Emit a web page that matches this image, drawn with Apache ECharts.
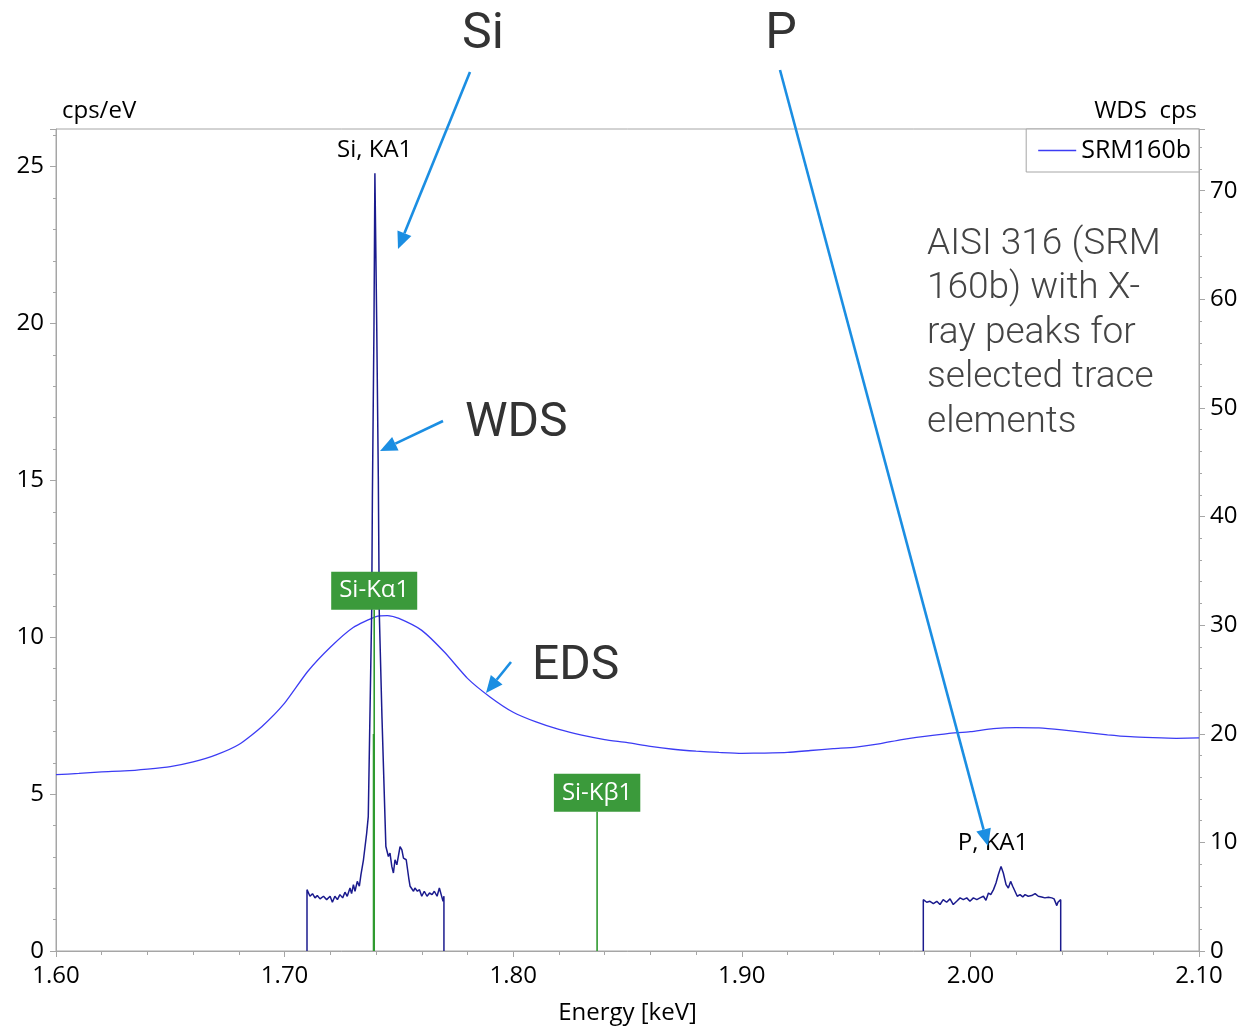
<!DOCTYPE html>
<html>
<head>
<meta charset="utf-8">
<title>AISI 316 (SRM 160b) – Si and P X-ray peaks, EDS vs WDS</title>
<script src="https://cdn.jsdelivr.net/npm/echarts@6/dist/echarts.min.js"></script>
<style>
  html, body { margin: 0; padding: 0; background: #fff; }
  #chart { width: 1241px; height: 1030px; }
</style>
</head>
<body>
<div id="chart"></div>
<script>
// ---- EDS spectrum of SRM160b (left axis, cps/eV) ----
const edsEnergy = [1.600, 1.610, 1.620, 1.630, 1.640, 1.650, 1.660, 1.670, 1.680, 1.690,
  1.700, 1.710, 1.720, 1.730, 1.740, 1.745, 1.750, 1.760, 1.770,
  1.780, 1.790, 1.800, 1.810, 1.820, 1.830, 1.840, 1.850, 1.860, 1.870,
  1.880, 1.890, 1.900, 1.910, 1.920, 1.930, 1.940, 1.950, 1.960, 1.970,
  1.980, 1.990, 2.000, 2.010, 2.020, 2.030, 2.040, 2.050, 2.060, 2.070,
  2.080, 2.090, 2.100];
const edsCounts = [5.62, 5.66, 5.71, 5.74, 5.80, 5.88, 6.03, 6.25, 6.58, 7.15,
  7.90, 8.90, 9.68, 10.31, 10.66, 10.69, 10.60, 10.22, 9.52,
  8.69, 8.09, 7.61, 7.30, 7.06, 6.88, 6.74, 6.64, 6.52, 6.43,
  6.37, 6.33, 6.30, 6.31, 6.33, 6.39, 6.45, 6.50, 6.60, 6.74,
  6.84, 6.93, 6.99, 7.09, 7.12, 7.11, 7.05, 6.97, 6.89, 6.83,
  6.80, 6.78, 6.79];

// ---- WDS scan across Si Kα (right axis, cps) ----
const wdsSiEnergy = [1.7098, 1.7098, 1.7111, 1.7122, 1.7133, 1.7143, 1.7155, 1.7170, 1.7184, 1.7199,
  1.7209, 1.7220, 1.7231, 1.7242, 1.7254, 1.7264, 1.7274, 1.7286, 1.7293, 1.7301,
  1.7308, 1.7318, 1.7327, 1.7334, 1.7345, 1.7352, 1.7359, 1.7366, 1.7372, 1.7381,
  1.7384, 1.7391, 1.7395, 1.7403, 1.7410, 1.7414, 1.7426, 1.7439, 1.7443, 1.7454,
  1.7461, 1.7469, 1.7476, 1.7483, 1.7491, 1.7505, 1.7513, 1.7520, 1.7532, 1.7543,
  1.7549, 1.7557, 1.7564, 1.7570, 1.7581, 1.7590, 1.7600, 1.7611, 1.7623, 1.7634,
  1.7645, 1.7655, 1.7667, 1.7677, 1.7685, 1.7693, 1.7697, 1.7697];
const wdsSiCounts = [0, 5.65, 5.04, 5.28, 4.89, 5.10, 4.80, 5.04, 4.73, 5.04,
  4.49, 5.04, 4.73, 5.19, 4.89, 5.41, 5.04, 5.80, 5.28, 6.11,
  5.50, 6.41, 5.96, 7.03, 8.40, 9.62, 10.84, 12.37, 20.0, 31.3,
  41.7, 57.6, 71.6, 57.6, 43.5, 31.3, 21.5, 12.37, 9.62, 8.70,
  9.01, 7.79, 7.18, 8.40, 7.94, 9.62, 9.32, 8.55, 8.40, 6.72,
  5.96, 6.11, 5.50, 5.80, 5.50, 5.65, 5.04, 5.50, 5.04, 5.34,
  5.19, 5.50, 5.04, 5.80, 5.19, 4.58, 5.04, 0];

// ---- WDS scan across P Kα (right axis, cps) ----
const wdsPEnergy = [1.9794, 1.9794, 1.9809, 1.9823, 1.9838, 1.9853, 1.9867, 1.9881, 1.9896, 1.9911,
  1.9925, 1.9940, 1.9955, 1.9969, 1.9984, 1.9998, 2.0013, 2.0028, 2.0042, 2.0057,
  2.0068, 2.0079, 2.0089, 2.0101, 2.0112, 2.0122, 2.0134, 2.0144, 2.0156, 2.0166,
  2.0176, 2.0185, 2.0195, 2.0205, 2.0217, 2.0229, 2.0239, 2.0253, 2.0268, 2.0283,
  2.0297, 2.0312, 2.0326, 2.0341, 2.0356, 2.0366, 2.0378, 2.0383, 2.0395, 2.0395];
const wdsPCounts = [0, 4.73, 4.49, 4.58, 4.37, 4.58, 4.28, 4.73, 4.49, 4.80,
  4.28, 4.58, 4.89, 4.73, 4.89, 4.58, 4.89, 4.73, 4.89, 5.04,
  4.67, 5.34, 5.19, 5.65, 6.26, 7.02, 7.79, 7.18, 6.11, 5.80,
  6.41, 5.96, 5.50, 5.04, 5.19, 4.98, 5.19, 5.04, 5.10, 5.28,
  5.04, 4.98, 4.89, 4.95, 4.89, 4.80, 4.18, 4.49, 4.73, 0];

// ---- Line markers (EDS library lines, left axis) ----
const markerNames = ['Si-Kα1', 'Si-Kβ1'];
const markerEnergy = [1.7392, 1.8367];
const markerHeight = [10.88, 4.44];
const kAlpha2Energy = 1.7389;
const kAlpha2Height = 6.92;

// ---- WDS peak identifications (right axis) ----
const wdsPeakNames = ['Si, KA1', 'P, KA1'];
const wdsPeakEnergy = [1.7394, 2.0099];
const wdsPeakLabelLevel = [73.76, 9.9];

// ---- Axis settings ----
const energyRange = [1.6, 2.1];
const edsRange = [0, 26.2];
const wdsRange = [0, 75.68];

const zip = (xs, ys) => xs.map((x, i) => [x, ys[i]]);

const FONT = 'Open Sans';
const TEXT = '#000';
const AXIS_GREY = '#a6a6a6';
const EDS_BLUE = '#3c3cf4';
const WDS_NAVY = '#1b1b8e';
const LINE_GREEN = '#2f9a2f';
const LABEL_GREEN = '#3b9a3b';
const ARROW_BLUE = '#1b8ee2';

const chart = echarts.init(document.getElementById('chart'), null, { renderer: 'canvas' });

const yAxisCommon = {
  type: 'value',
  splitLine: { show: false },
  axisLine: { show: true, lineStyle: { color: AXIS_GREY, width: 1 } },
  axisTick: { show: true, length: 6, lineStyle: { color: AXIS_GREY } },
  minorTick: { show: true, splitNumber: 5, length: 3, lineStyle: { color: AXIS_GREY } },
  nameLocation: 'end',
  nameGap: 6
};

const markerSeries = markerNames.map((name, i) => ({
  name: name,
  type: 'line',
  yAxisIndex: 0,
  data: [[markerEnergy[i], 0], [markerEnergy[i], markerHeight[i]]],
  symbol: 'none',
  silent: true,
  lineStyle: { color: LINE_GREEN, width: 1.6 },
  z: 3
}));

const option = {
  animation: false,
  backgroundColor: '#ffffff',
  grid: {
    left: 56, right: 42, top: 129, bottom: 75,
    show: true, borderColor: AXIS_GREY, borderWidth: 1, backgroundColor: 'transparent'
  },
  legend: {
    data: [{ name: 'SRM160b', icon: 'rect' }],
    right: 42,
    top: 129,
    orient: 'vertical',
    itemWidth: 38,
    itemHeight: 1.3,
    padding: [9, 8, 9, 12],
    borderColor: AXIS_GREY,
    borderWidth: 1,
    backgroundColor: '#fff',
    textStyle: { fontFamily: FONT, fontSize: 25, color: TEXT, lineHeight: 22 },
    selectedMode: false
  },
  xAxis: {
    type: 'value',
    min: energyRange[0],
    max: energyRange[1],
    interval: 0.1,
    splitLine: { show: false },
    axisLine: { show: true, onZero: false, lineStyle: { color: AXIS_GREY } },
    axisTick: { show: true, length: 6, lineStyle: { color: AXIS_GREY } },
    minorTick: { show: true, splitNumber: 5, length: 4, lineStyle: { color: AXIS_GREY } },
    axisLabel: {
      formatter: v => v.toFixed(2),
      fontFamily: FONT, fontSize: 24, color: TEXT, margin: 13
    },
    name: 'Energy [keV]',
    nameLocation: 'middle',
    nameGap: 50,
    nameTextStyle: { fontFamily: FONT, fontSize: 24, color: TEXT }
  },
  yAxis: [
    Object.assign({}, yAxisCommon, {
      position: 'left',
      min: edsRange[0], max: edsRange[1], interval: 5,
      axisLabel: { fontFamily: FONT, fontSize: 24, color: TEXT, margin: 12, showMaxLabel: false },
      name: 'cps/eV',
      nameTextStyle: { fontFamily: FONT, fontSize: 24, color: TEXT, align: 'left', padding: [0, 0, 0, 6] }
    }),
    Object.assign({}, yAxisCommon, {
      position: 'right',
      min: wdsRange[0], max: wdsRange[1], interval: 10,
      axisLabel: { fontFamily: FONT, fontSize: 24, color: TEXT, margin: 11, showMaxLabel: false },
      name: 'WDS  cps',
      nameTextStyle: { fontFamily: FONT, fontSize: 24, color: TEXT, align: 'right', padding: [0, 2, 0, 0] }
    })
  ],
  series: [
    {
      name: 'SRM160b',
      type: 'line',
      yAxisIndex: 0,
      data: zip(edsEnergy, edsCounts),
      symbol: 'none',
      smooth: 0.2,
      color: EDS_BLUE,
      lineStyle: { color: EDS_BLUE, width: 1.3 },
      z: 2
    },
    ...markerSeries,
    {
      name: 'Si-Kα2',
      type: 'line',
      yAxisIndex: 0,
      data: [[kAlpha2Energy, 0], [kAlpha2Energy, kAlpha2Height]],
      symbol: 'none',
      silent: true,
      lineStyle: { color: LINE_GREEN, width: 1.6 },
      z: 3
    },
    {
      name: 'WDS Si',
      type: 'line',
      yAxisIndex: 1,
      data: zip(wdsSiEnergy, wdsSiCounts),
      symbol: 'none',
      lineStyle: { color: WDS_NAVY, width: 1.5 },
      z: 4
    },
    {
      name: 'WDS P',
      type: 'line',
      yAxisIndex: 1,
      data: zip(wdsPEnergy, wdsPCounts),
      symbol: 'none',
      lineStyle: { color: WDS_NAVY, width: 1.5 },
      z: 4
    },
    {
      name: 'line labels',
      type: 'scatter',
      yAxisIndex: 0,
      symbolSize: 0,
      itemStyle: { color: LABEL_GREEN, opacity: 1 },
      silent: true,
      z: 6,
      data: markerNames.map((n, i) => ({ name: n, value: [markerEnergy[i], markerHeight[i]] })),
      label: {
        show: true,
        position: 'top',
        distance: 0,
        formatter: p => p.name,
        backgroundColor: LABEL_GREEN,
        color: '#ffffff',
        fontFamily: FONT,
        fontSize: 24,
        lineHeight: 28,
        padding: [5, 8, 5, 8]
      }
    },
    {
      name: 'WDS peak labels',
      type: 'scatter',
      yAxisIndex: 1,
      symbolSize: 0,
      itemStyle: { color: TEXT, opacity: 1 },
      silent: true,
      z: 6,
      data: wdsPeakNames.map((n, i) => ({ name: n, value: [wdsPeakEnergy[i], wdsPeakLabelLevel[i]] })),
      label: {
        show: true,
        position: 'inside',
        formatter: p => p.name,
        color: TEXT,
        fontFamily: FONT,
        fontSize: 24
      }
    }
  ]
};

chart.setOption(option);

// ---- Callouts drawn on top of the plot ----
function arrow(x1, y1, x2, y2) {
  const ang = Math.atan2(y2 - y1, x2 - x1);
  const headLen = 17, headHalf = 7.5;
  const bx = x2 - headLen * Math.cos(ang), by = y2 - headLen * Math.sin(ang);
  const px = -Math.sin(ang) * headHalf, py = Math.cos(ang) * headHalf;
  return [
    {
      type: 'line', silent: true, z: 100,
      shape: { x1: x1, y1: y1, x2: bx, y2: by },
      style: { stroke: ARROW_BLUE, lineWidth: 2.6 }
    },
    {
      type: 'polygon', silent: true, z: 100,
      shape: { points: [[x2, y2], [bx + px, by + py], [bx - px, by - py]] },
      style: { fill: ARROW_BLUE }
    }
  ];
}

function bigText(text, x, y, align, size, weight, color) {
  return {
    type: 'text', silent: true, z: 100,
    x: x, y: y,
    style: {
      text: text, fill: color, fontFamily: 'Roboto', fontSize: size, fontWeight: weight,
      align: align, verticalAlign: 'middle'
    }
  };
}

const callouts = [
  bigText('Si', 483, 35, 'center', 50, 400, '#333'),
  bigText('P', 781, 35, 'center', 50, 400, '#333'),
  bigText('WDS', 465, 424, 'left', 48, 400, '#333'),
  bigText('EDS', 532, 667, 'left', 48, 400, '#333'),
  {
    type: 'text', silent: true, z: 100,
    x: 927, y: 222,
    style: {
      text: 'AISI 316 (SRM\n160b) with X-\nray peaks for\nselected trace\nelements',
      fill: '#444', fontFamily: 'Roboto', fontSize: 37, fontWeight: 300,
      lineHeight: 44.6, align: 'left', verticalAlign: 'top'
    }
  },
  ...arrow(470, 72, 398, 249),
  ...arrow(780, 70, 988, 846),
  ...arrow(443, 421, 380, 451),
  ...arrow(511, 662, 486, 693)
];

chart.setOption({ graphic: { elements: callouts } });
</script>
</body>
</html>
